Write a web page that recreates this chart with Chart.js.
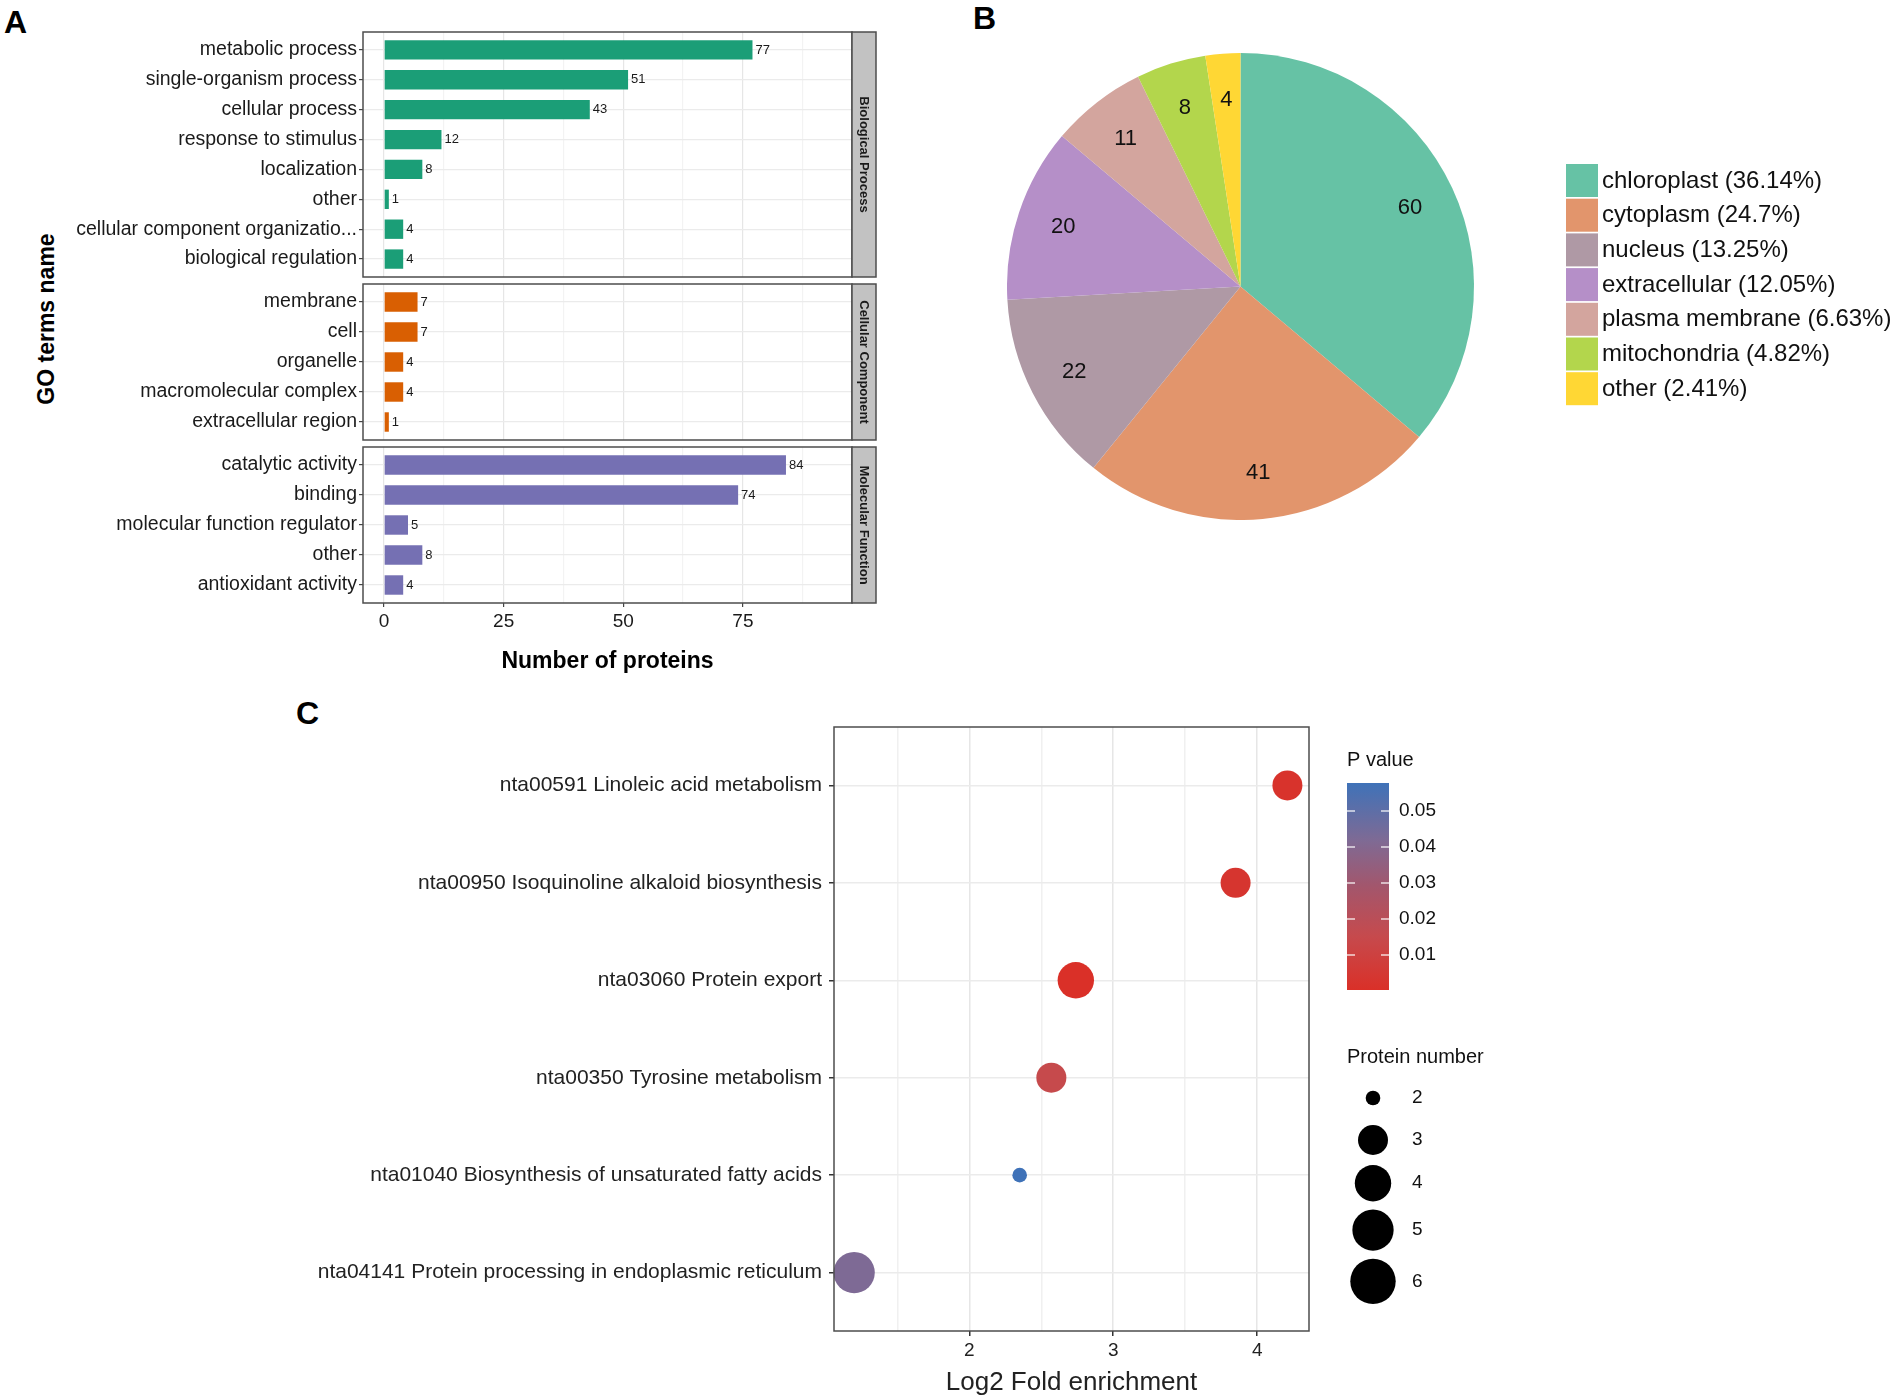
<!DOCTYPE html>
<html>
<head>
<meta charset="utf-8">
<script src="https://cdn.jsdelivr.net/npm/chart.js@4.4.1/dist/chart.umd.min.js"></script>
<style>
  body { margin: 0; background: #fff; width: 1904px; height: 1400px; position: relative; overflow: hidden; font-family: 'Liberation Sans', Arial, sans-serif; }
  canvas { position: absolute; }
  .tag { position: absolute; font-weight: bold; font-size: 32px; line-height: 1; }
  #goTitle { position: absolute; left: 46px; top: 319px; transform: translate(-50%, -50%) rotate(-90deg); font-weight: bold; font-size: 23px; white-space: nowrap; }
</style>
</head>
<body>
<div class="tag" style="left:4px;top:6px">A</div>
<div class="tag" style="left:973px;top:2px">B</div>
<div class="tag" style="left:296px;top:697px">C</div>
<div id="goTitle">GO terms name</div>

<canvas id="facetBP" width="880" height="253" style="left:0;top:28px"></canvas>
<canvas id="facetCC" width="880" height="164" style="left:0;top:280px"></canvas>
<canvas id="facetMF" width="880" height="232" style="left:0;top:443px"></canvas>
<canvas id="pieChart" width="897" height="467" style="left:1007px;top:53px"></canvas>
<canvas id="dotChart" width="1654" height="700" style="left:250px;top:700px"></canvas>

<script>
// Panel A: GO terms
const bpTerms = ['metabolic process', 'single-organism process', 'cellular process', 'response to stimulus', 'localization', 'other', 'cellular component organizatio...', 'biological regulation']
const bpCounts = [77, 51, 43, 12, 8, 1, 4, 4]
const ccTerms = ['membrane', 'cell', 'organelle', 'macromolecular complex', 'extracellular region']
const ccCounts = [7, 7, 4, 4, 1]
const mfTerms = ['catalytic activity', 'binding', 'molecular function regulator', 'other', 'antioxidant activity']
const mfCounts = [84, 74, 5, 8, 4]
const facetNames = ['Biological Process', 'Cellular Component', 'Molecular Function']
const countTicks = [0, 25, 50, 75]
const countMinor = [12.5, 37.5, 62.5, 87.5]

// Panel B: subcellular location
const locations = ['chloroplast', 'cytoplasm', 'nucleus', 'extracellular', 'plasma membrane', 'mitochondria', 'other']
const locationCounts = [60, 41, 22, 20, 11, 8, 4]

// Panel C: KEGG enrichment
const pathways = ['nta00591 Linoleic acid metabolism', 'nta00950 Isoquinoline alkaloid biosynthesis', 'nta03060 Protein export', 'nta00350 Tyrosine metabolism', 'nta01040 Biosynthesis of unsaturated fatty acids', 'nta04141 Protein processing in endoplasmic reticulum']
const foldEnrichment = [4.21, 3.85, 2.74, 2.57, 2.35, 1.20]
const pValues = [0.002, 0.003, 0.0003, 0.015, 0.0578, 0.042]
const proteinNumbers = [3, 3, 4, 3, 2, 5]
const foldTicks = [2, 3, 4]
const foldMinor = [1.5, 2.5, 3.5]
const pTicks = [0.01, 0.02, 0.03, 0.04, 0.05]
const sizeTicks = [2, 3, 4, 5, 6]

// colours
const facetColors = ['#1B9E77', '#D95F02', '#7570B3']
const pieColors = ['#66C2A5', '#E2956C', '#AF99A5', '#B58FC8', '#D3A59E', '#B3D64C', '#FFD734']
const colorStops = [[0, '#DA3028'], [0.26, '#C64A4D'], [0.5, '#A3566C'], [0.72, '#7F6A94'], [1, '#3F72B8']]

const FONT = "'Liberation Sans', Arial, sans-serif"
const pMin = Math.min(...pValues)
const pMax = Math.max(...pValues)

const hexToRgb = h => [1, 3, 5].map(i => parseInt(h.slice(i, i + 2), 16))
const pColor = p => {
    const t = (p - pMin) / (pMax - pMin)
    for (let i = 1; i < colorStops.length; i++) {
        if (t <= colorStops[i][0]) {
            const [t0, c0] = colorStops[i - 1]
            const [t1, c1] = colorStops[i]
            const f = (t - t0) / (t1 - t0)
            const a = hexToRgb(c0), b = hexToRgb(c1)
            return `rgb(${a.map((v, k) => Math.round(v + (b[k] - v) * f)).join(',')})`
        }
    }
    return colorStops[colorStops.length - 1][1]
}

// size scale (like ggplot scale_size, area based)
const sizeRadius = n => 7.3 + 15.4 * Math.sqrt((n - sizeTicks[0]) / (sizeTicks[sizeTicks.length - 1] - sizeTicks[0]))

// panel border + facet strip
const panelFrame = {
    id: 'panelFrame',
    afterDraw(chart, args, opts) {
        const { ctx, chartArea: a } = chart
        ctx.save()
        ctx.strokeStyle = '#4d4d4d'
        ctx.lineWidth = 1.5
        ctx.strokeRect(a.left, a.top, a.right - a.left, a.bottom - a.top)
        if (opts.text) {
            ctx.fillStyle = '#c2c2c2'
            ctx.fillRect(a.right, a.top, 24, a.bottom - a.top)
            ctx.strokeRect(a.right, a.top, 24, a.bottom - a.top)
            ctx.translate(a.right + 12, (a.top + a.bottom) / 2)
            ctx.rotate(Math.PI / 2)
            ctx.font = 'bold 13px ' + FONT
            ctx.fillStyle = '#1a1a1a'
            ctx.textAlign = 'center'
            ctx.textBaseline = 'middle'
            ctx.fillText(opts.text, 0, 0)
        }
        ctx.restore()
    }
}

// number at end of each bar
const barValues = {
    id: 'barValues',
    afterDatasetsDraw(chart) {
        const { ctx } = chart
        ctx.save()
        ctx.font = '13px ' + FONT
        ctx.fillStyle = '#1a1a1a'
        ctx.textBaseline = 'middle'
        chart.getDatasetMeta(0).data.forEach((bar, i) => {
            ctx.fillText(chart.data.datasets[0].data[i].x, bar.x + 3, bar.y)
        })
        ctx.restore()
    }
}

const makeFacet = (id, terms, counts, color, stripText, showAxis) => {
    new Chart(document.getElementById(id), {
        type: 'bar',
        data: {
            datasets: [{
                data: counts.map((v, i) => ({ x: v, y: i })),
                backgroundColor: color,
                borderWidth: 0,
                categoryPercentage: 0.72,
                barPercentage: 0.9
            }]
        },
        options: {
            indexAxis: 'y',
            responsive: false,
            animation: false,
            events: [],
            layout: { padding: { top: 4, bottom: showAxis ? 0 : 4, right: 28, left: 0 } },
            plugins: { legend: { display: false }, tooltip: { enabled: false }, panelFrame: { text: stripText } },
            scales: {
                x: {
                    type: 'linear',
                    min: -4.4,
                    max: 97.8,
                    afterBuildTicks: s => { s.ticks = [...countTicks, ...countMinor].sort((a, b) => a - b).map(v => ({ value: v })) },
                    afterFit: s => { s.height = showAxis ? 72 : 0 },
                    border: { display: false },
                    grid: {
                        color: c => countTicks.includes(c.tick.value) ? '#e6e6e6' : '#f3f3f3',
                        lineWidth: 1.2,
                        drawTicks: showAxis,
                        tickLength: 4,
                        tickColor: c => countTicks.includes(c.tick.value) ? '#444' : 'rgba(0,0,0,0)'
                    },
                    ticks: {
                        display: showAxis,
                        autoSkip: false,
                        maxRotation: 0,
                        padding: 3,
                        color: '#1a1a1a',
                        font: { family: FONT, size: 19 },
                        callback: v => countTicks.includes(v) ? v : ''
                    },
                    title: {
                        display: showAxis,
                        text: 'Number of proteins',
                        color: '#000',
                        font: { family: FONT, size: 23, weight: 'bold' },
                        padding: { top: 0, bottom: 0 }
                    }
                },
                y: {
                    type: 'linear',
                    min: -0.6,
                    max: terms.length - 0.4,
                    reverse: true,
                    offset: false,
                    afterBuildTicks: s => { s.ticks = terms.map((t, i) => ({ value: i })) },
                    // labels sit well inside the panel, so no extra label padding
                    afterFit: s => { s.width = 363; s.paddingTop = 0; s.paddingBottom = 0 },
                    border: { display: false },
                    grid: { offset: false, color: '#ebebeb', lineWidth: 1.2, tickLength: 4, tickColor: '#444' },
                    ticks: {
                        autoSkip: false,
                        padding: 2,
                        color: '#1a1a1a',
                        font: { family: FONT, size: 19.5 },
                        callback: v => terms[v]
                    }
                }
            }
        },
        plugins: [panelFrame, barValues]
    })
}

makeFacet('facetBP', bpTerms, bpCounts, facetColors[0], facetNames[0], false)
makeFacet('facetCC', ccTerms, ccCounts, facetColors[1], facetNames[1], false)
makeFacet('facetMF', mfTerms, mfCounts, facetColors[2], facetNames[2], true)

// Panel B: slice numbers and legend
const pieExtras = {
    id: 'pieExtras',
    afterDraw(chart) {
        const { ctx } = chart
        const total = locationCounts.reduce((a, b) => a + b, 0)
        ctx.save()
        ctx.font = '22px ' + FONT
        ctx.fillStyle = '#111'
        ctx.textAlign = 'center'
        ctx.textBaseline = 'middle'
        chart.getDatasetMeta(0).data.forEach((arc, i) => {
            const mid = (arc.startAngle + arc.endAngle) / 2
            const r = arc.outerRadius * 0.8
            ctx.fillText(locationCounts[i], arc.x + Math.cos(mid) * r, arc.y + Math.sin(mid) * r)
        })
        ctx.textAlign = 'left'
        ctx.font = '24px ' + FONT
        locations.forEach((name, i) => {
            const y = 111 + i * 34.7
            ctx.fillStyle = pieColors[i]
            ctx.fillRect(559, y, 32, 33)
            ctx.fillStyle = '#111'
            const pct = +(locationCounts[i] / total * 100).toFixed(2)
            ctx.fillText(`${name} (${pct}%)`, 595, y + 17)
        })
        ctx.restore()
    }
}

new Chart(document.getElementById('pieChart'), {
    type: 'pie',
    data: {
        labels: locations,
        datasets: [{ data: locationCounts, backgroundColor: pieColors, borderWidth: 0 }]
    },
    options: {
        responsive: false,
        animation: false,
        events: [],
        layout: { padding: { right: 430 } },
        plugins: { legend: { display: false }, tooltip: { enabled: false } }
    },
    plugins: [pieExtras]
})

// Panel C: colour bar + size legend
const dotLegend = {
    id: 'dotLegend',
    afterDraw(chart) {
        const { ctx } = chart
        ctx.save()
        ctx.fillStyle = '#111'
        ctx.textBaseline = 'middle'
        ctx.textAlign = 'left'
        ctx.font = '20px ' + FONT
        ctx.fillText('P value', 1097, 60)

        const barX = 1097, barW = 42, barTop = 83, barBot = 290
        const grad = ctx.createLinearGradient(0, barBot, 0, barTop)
        colorStops.forEach(([t, c]) => grad.addColorStop(t, c))
        ctx.fillStyle = grad
        ctx.fillRect(barX, barTop, barW, barBot - barTop)
        ctx.font = '19px ' + FONT
        pTicks.forEach(p => {
            const y = barBot - (p - pMin) / (pMax - pMin) * (barBot - barTop)
            ctx.strokeStyle = 'rgba(255,255,255,0.8)'
            ctx.lineWidth = 1.5
            ctx.beginPath()
            ctx.moveTo(barX, y); ctx.lineTo(barX + 8, y)
            ctx.moveTo(barX + barW - 8, y); ctx.lineTo(barX + barW, y)
            ctx.stroke()
            ctx.fillStyle = '#111'
            ctx.fillText(p.toFixed(2), 1149, y)
        })

        ctx.font = '20px ' + FONT
        ctx.fillText('Protein number', 1097, 357)
        let y = 377
        sizeTicks.forEach(n => {
            const r = sizeRadius(n)
            const key = Math.max(2 * r + 8, 42)
            const cy = y + key / 2
            ctx.fillStyle = '#000'
            ctx.beginPath()
            ctx.arc(1123, cy, r, 0, Math.PI * 2)
            ctx.fill()
            ctx.font = '19px ' + FONT
            ctx.fillStyle = '#111'
            ctx.fillText(n, 1162, cy)
            y += key
        })
        ctx.restore()
    }
}

new Chart(document.getElementById('dotChart'), {
    type: 'bubble',
    data: {
        datasets: [{
            data: pathways.map((p, i) => ({ x: foldEnrichment[i], y: i, r: sizeRadius(proteinNumbers[i]) })),
            backgroundColor: pValues.map(pColor),
            borderWidth: 0,
            clip: false
        }]
    },
    options: {
        responsive: false,
        animation: false,
        events: [],
        layout: { padding: { top: 27, bottom: 2, right: 595, left: 0 } },
        plugins: { legend: { display: false }, tooltip: { enabled: false } },
        scales: {
            x: {
                type: 'linear',
                min: 1.06,
                max: 4.36,
                afterBuildTicks: s => { s.ticks = [...foldMinor, ...foldTicks].sort((a, b) => a - b).map(v => ({ value: v })) },
                afterFit: s => { s.height = 67 },
                border: { display: false },
                grid: {
                    color: c => foldTicks.includes(c.tick.value) ? '#e6e6e6' : '#f0f0f0',
                    lineWidth: 1.5,
                    tickLength: 5,
                    tickColor: c => foldTicks.includes(c.tick.value) ? '#333' : 'rgba(0,0,0,0)'
                },
                ticks: {
                    autoSkip: false,
                    maxRotation: 0,
                    padding: 3,
                    color: '#222',
                    font: { family: FONT, size: 19 },
                    callback: v => foldTicks.includes(v) ? v : ''
                },
                title: {
                    display: true,
                    text: 'Log2 Fold enrichment',
                    color: '#222',
                    font: { family: FONT, size: 26 },
                    padding: { top: 0, bottom: 0 }
                }
            },
            y: {
                type: 'linear',
                min: -0.6,
                max: pathways.length - 0.4,
                reverse: true,
                afterBuildTicks: s => { s.ticks = pathways.map((p, i) => ({ value: i })) },
                afterFit: s => { s.width = 584 },
                border: { display: false },
                grid: { color: '#ebebeb', lineWidth: 1.5, tickLength: 5, tickColor: '#333' },
                ticks: {
                    autoSkip: false,
                    padding: 7,
                    color: '#222',
                    font: { family: FONT, size: 21 },
                    callback: v => pathways[v]
                }
            }
        }
    },
    plugins: [panelFrame, dotLegend]
})
</script>
</body>
</html>
